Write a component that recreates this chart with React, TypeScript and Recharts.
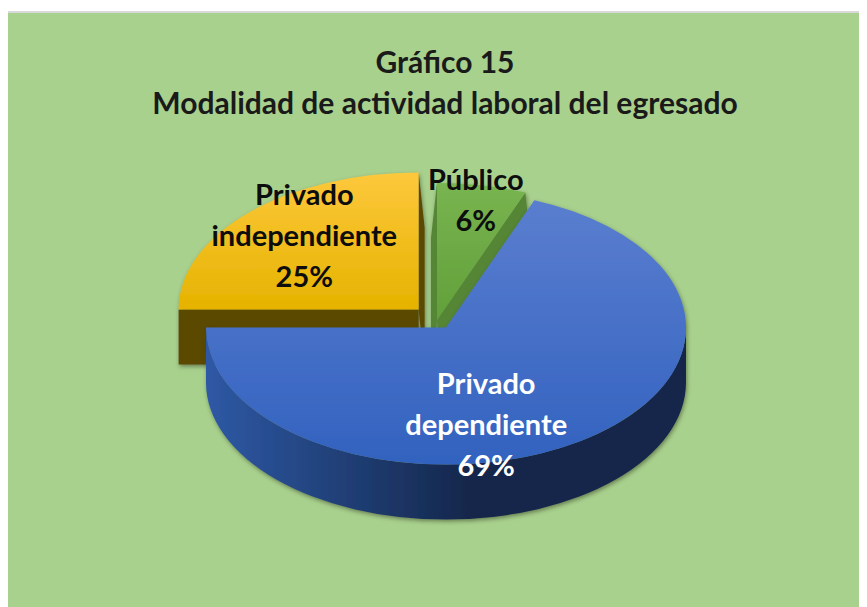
import React from 'react';
import { PieChart, Pie } from 'recharts';

const categories = ['Privado independiente', 'Público', 'Privado dependiente'];
const shares = [25, 6, 69];
const titleLines = ['Gráfico 15', 'Modalidad de actividad laboral del egresado'];

const data = categories.map((name, i) => ({ name, value: shares[i] }));

const W = 859;
const H = 594;
const TILT = 0.571; // vertical squash of the pie disc
const DEPTH = 55;
const RAD = Math.PI / 180;
const FONT = 'Lato, "Open Sans", sans-serif';

// pull-out of each slice along its mid angle
const explode: Record<string, number> = {
  'Privado independiente': 26,
  'Público': 0,
  'Privado dependiente': 16,
};

const looks: Record<string, any> = {
  'Privado independiente': { top: ['#fdc83c', '#e5b300'], side: '#5c4a00', wall: ['#6a5600', '#4a3c00'], text: '#0d0d0d' },
  'Público': { top: ['#78b450', '#62a03a'], side: '#558636', wall: ['#4f7f2c', '#3c6420'], text: '#0d0d0d' },
  'Privado dependiente': { top: ['#5a7ecf', '#3262bf'], side: '#1e3a74', wall: ['#2e59a5', '#14274b'], text: '#ffffff' },
};

// label block nudges, relative to the default spot on the slice
const labelNudge: Record<string, [number, number]> = {
  'Privado independiente': [-21, -22],
  'Público': [14, -47],
  'Privado dependiente': [-34, 34],
};

const sliceOrigin = (p: any) => {
  const off = explode[p.name] ?? 0;
  return [
    p.cx + off * Math.cos(p.midAngle * RAD),
    p.cy - off * TILT * Math.sin(p.midAngle * RAD),
  ];
};

const Slice3D = (props: any) => {
  const { outerRadius, startAngle, endAngle, name, index } = props;
  const look = looks[name];
  const rx = outerRadius;
  const ry = outerRadius * TILT;
  const [ox, oy] = sliceOrigin(props);
  const pt = (a: number, dx = 0, dy = 0) =>
    `${ox + rx * Math.cos(a * RAD) + dx},${oy - ry * Math.sin(a * RAD) + dy}`;

  const hi = Math.max(startAngle, endAngle);
  const lo = Math.min(startAngle, endAngle);

  // outer wall: only the front half of the disc shows
  const walls: React.ReactNode[] = [];
  [-360, 0, 360].forEach((k) => {
    const a = Math.min(hi, k);
    const b = Math.max(lo, k - 180);
    if (a - b > 0.01) {
      const large = a - b > 180 ? 1 : 0;
      walls.push(
        <path
          key={`w${k}`}
          d={`M${pt(a)} A${rx},${ry} 0 ${large} 1 ${pt(b)} L${pt(b, 0, DEPTH)} A${rx},${ry} 0 ${large} 0 ${pt(a, 0, DEPTH)} Z`}
          fill={`url(#wall${index})`}
        />
      );
    }
  });

  // radial faces, visible when their outward normal does not point backwards
  const faces: React.ReactNode[] = [];
  [
    [startAngle, startAngle + 90],
    [endAngle, endAngle - 90],
  ].forEach(([phi, nu], i) => {
    if (Math.sin(nu * RAD) < 0.01) {
      const sx = 6 * Math.cos(nu * RAD);
      faces.push(
        <path
          key={`f${i}`}
          d={`M${ox},${oy} L${pt(phi)} L${pt(phi, sx, DEPTH)} L${ox + sx},${oy + DEPTH} Z`}
          fill={look.side}
        />
      );
    }
  });

  const span = hi - lo;
  const top = `M${ox},${oy} L${pt(startAngle)} A${rx},${ry} 0 ${span > 180 ? 1 : 0} 1 ${pt(endAngle)} Z`;

  return (
    <g filter="url(#pieShadow)">
      <defs>
        <linearGradient id={`top${index}`} x1="0" y1="0" x2="0" y2="1">
          <stop offset="0%" stopColor={look.top[0]} />
          <stop offset="100%" stopColor={look.top[1]} />
        </linearGradient>
        <linearGradient id={`wall${index}`} x1="0" y1="0" x2="1" y2="0">
          <stop offset="0%" stopColor={look.wall[0]} />
          <stop offset="55%" stopColor={look.wall[1]} />
          <stop offset="100%" stopColor={look.wall[1]} />
        </linearGradient>
        <filter id="pieShadow" x="-10%" y="-10%" width="120%" height="130%">
          <feDropShadow dx="1" dy="2" stdDeviation="2" floodColor="#2f3a1a" floodOpacity="0.55" />
        </filter>
      </defs>
      {faces}
      {walls}
      <path d={top} fill={`url(#top${index})`} />
    </g>
  );
};

const SliceLabel = (props: any) => {
  const { name, midAngle, outerRadius, percent } = props;
  const [ox, oy] = sliceOrigin(props);
  const f = 0.55;
  const [nx, ny] = labelNudge[name] ?? [0, 0];
  const x = ox + f * outerRadius * Math.cos(midAngle * RAD) + nx;
  const y = oy - f * outerRadius * TILT * Math.sin(midAngle * RAD) + ny;
  const lines = [...String(name).split(' '), `${Math.round(percent * 100)}%`];
  const lh = 41;
  return (
    <text
      textAnchor="middle"
      fontFamily={FONT}
      fontWeight={700}
      fontSize={29}
      fill={looks[name].text}
    >
      {lines.map((t, i) => (
        <tspan key={i} x={x} y={y + (i - (lines.length - 1) / 2) * lh} dominantBaseline="central">
          {t}
        </tspan>
      ))}
    </text>
  );
};

export default function App() {
  return (
    <div style={{ width: W, height: 599, position: 'relative', background: '#ffffff' }}>
      <div style={{ position: 'absolute', left: 0, top: 3, width: W, height: 2, background: '#d9d9d9' }} />
      <div style={{ position: 'absolute', left: 0, top: 5, width: W, height: H, background: '#a9d18e' }}>
        <PieChart width={W} height={H} margin={{ top: 0, right: 0, bottom: 0, left: 0 }}>
          <text x={437} y={48} textAnchor="middle" dominantBaseline="central" fontFamily={FONT} fontWeight={700} fontSize={30} fill="#1a1a1a">
            {titleLines[0]}
          </text>
          <text x={437} y={89} textAnchor="middle" dominantBaseline="central" fontFamily={FONT} fontWeight={700} fontSize={30} fill="#1a1a1a">
            {titleLines[1]}
          </text>
          <Pie
            data={data}
            dataKey="value"
            nameKey="name"
            cx={429}
            cy={307}
            outerRadius={240}
            startAngle={180}
            endAngle={-180}
            stroke="none"
            shape={Slice3D}
            inactiveShape={Slice3D}
            activeShape={Slice3D}
            label={SliceLabel}
            labelLine={false}
            isAnimationActive={false}
          />
        </PieChart>
      </div>
    </div>
  );
}
